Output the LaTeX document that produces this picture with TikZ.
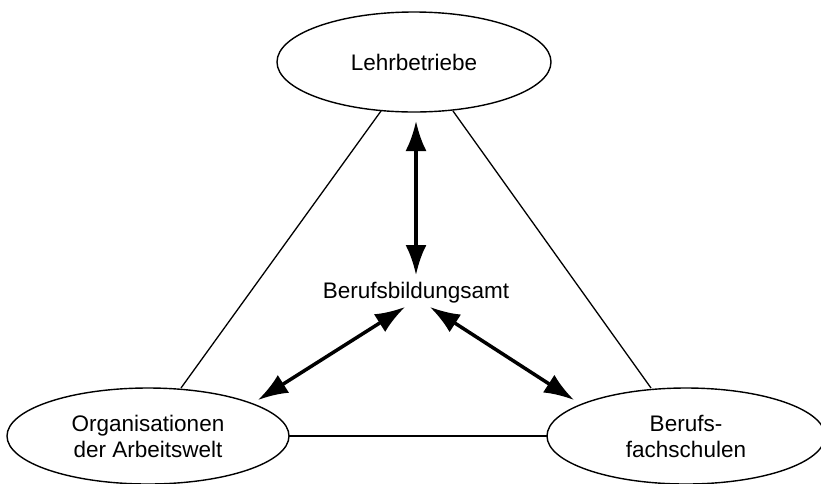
\documentclass[tikz,border=0pt]{standalone}
\usepackage{fontspec}
\setmainfont{Liberation Sans}
\usetikzlibrary{shapes.geometric,arrows.meta}
\tikzset{
  oval/.style={ellipse, draw, line width=1.4pt, inner sep=0pt, align=center,
    font=\fontsize{22.5}{26}\selectfont},
  thin/.style={line width=1.3pt},
  biarrow/.style={line width=3.5pt, {Latex[length=30pt,width=21pt]}-{Latex[length=30pt,width=21pt]}},
  lbl/.style={font=\fontsize{22.5}{26}\selectfont, inner sep=0pt}
}
\begin{document}
\begin{tikzpicture}[x=1pt,y=-1pt]
\useasboundingbox (0,0) rectangle (821,483);
\node[oval, minimum width=274pt, minimum height=100pt] (lehr) at (414,62) {Lehrbetriebe};
\node[oval, minimum width=282pt, minimum height=96pt] (org) at (148,436) {Organisationen\\der Arbeitswelt};
\node[oval, minimum width=278pt, minimum height=96pt] (bfs) at (686,436) {Berufs-\\fachschulen};
\node[lbl] (amt) at (416,293) {Berufsbildungsamt};
\coordinate (l1) at (381,111);
\coordinate (l2) at (453,111);
\coordinate (o1) at (181,388);
\coordinate (b1) at (651,388);
\coordinate (o2) at (289,436);
\coordinate (b2) at (547,436);
\draw[thin] (l1) -- (o1);
\draw[thin] (l2) -- (b1);
\draw[thin] (o2) -- (b2);
\coordinate (v1) at (416,121);
\coordinate (v2) at (416,275);
\coordinate (a1) at (405,307);
\coordinate (a2) at (258,400);
\coordinate (c1) at (430,307);
\coordinate (c2) at (574,400);
\draw[biarrow] (v1) -- (v2);
\draw[biarrow] (a1) -- (a2);
\draw[biarrow] (c1) -- (c2);
\end{tikzpicture}
\end{document}
